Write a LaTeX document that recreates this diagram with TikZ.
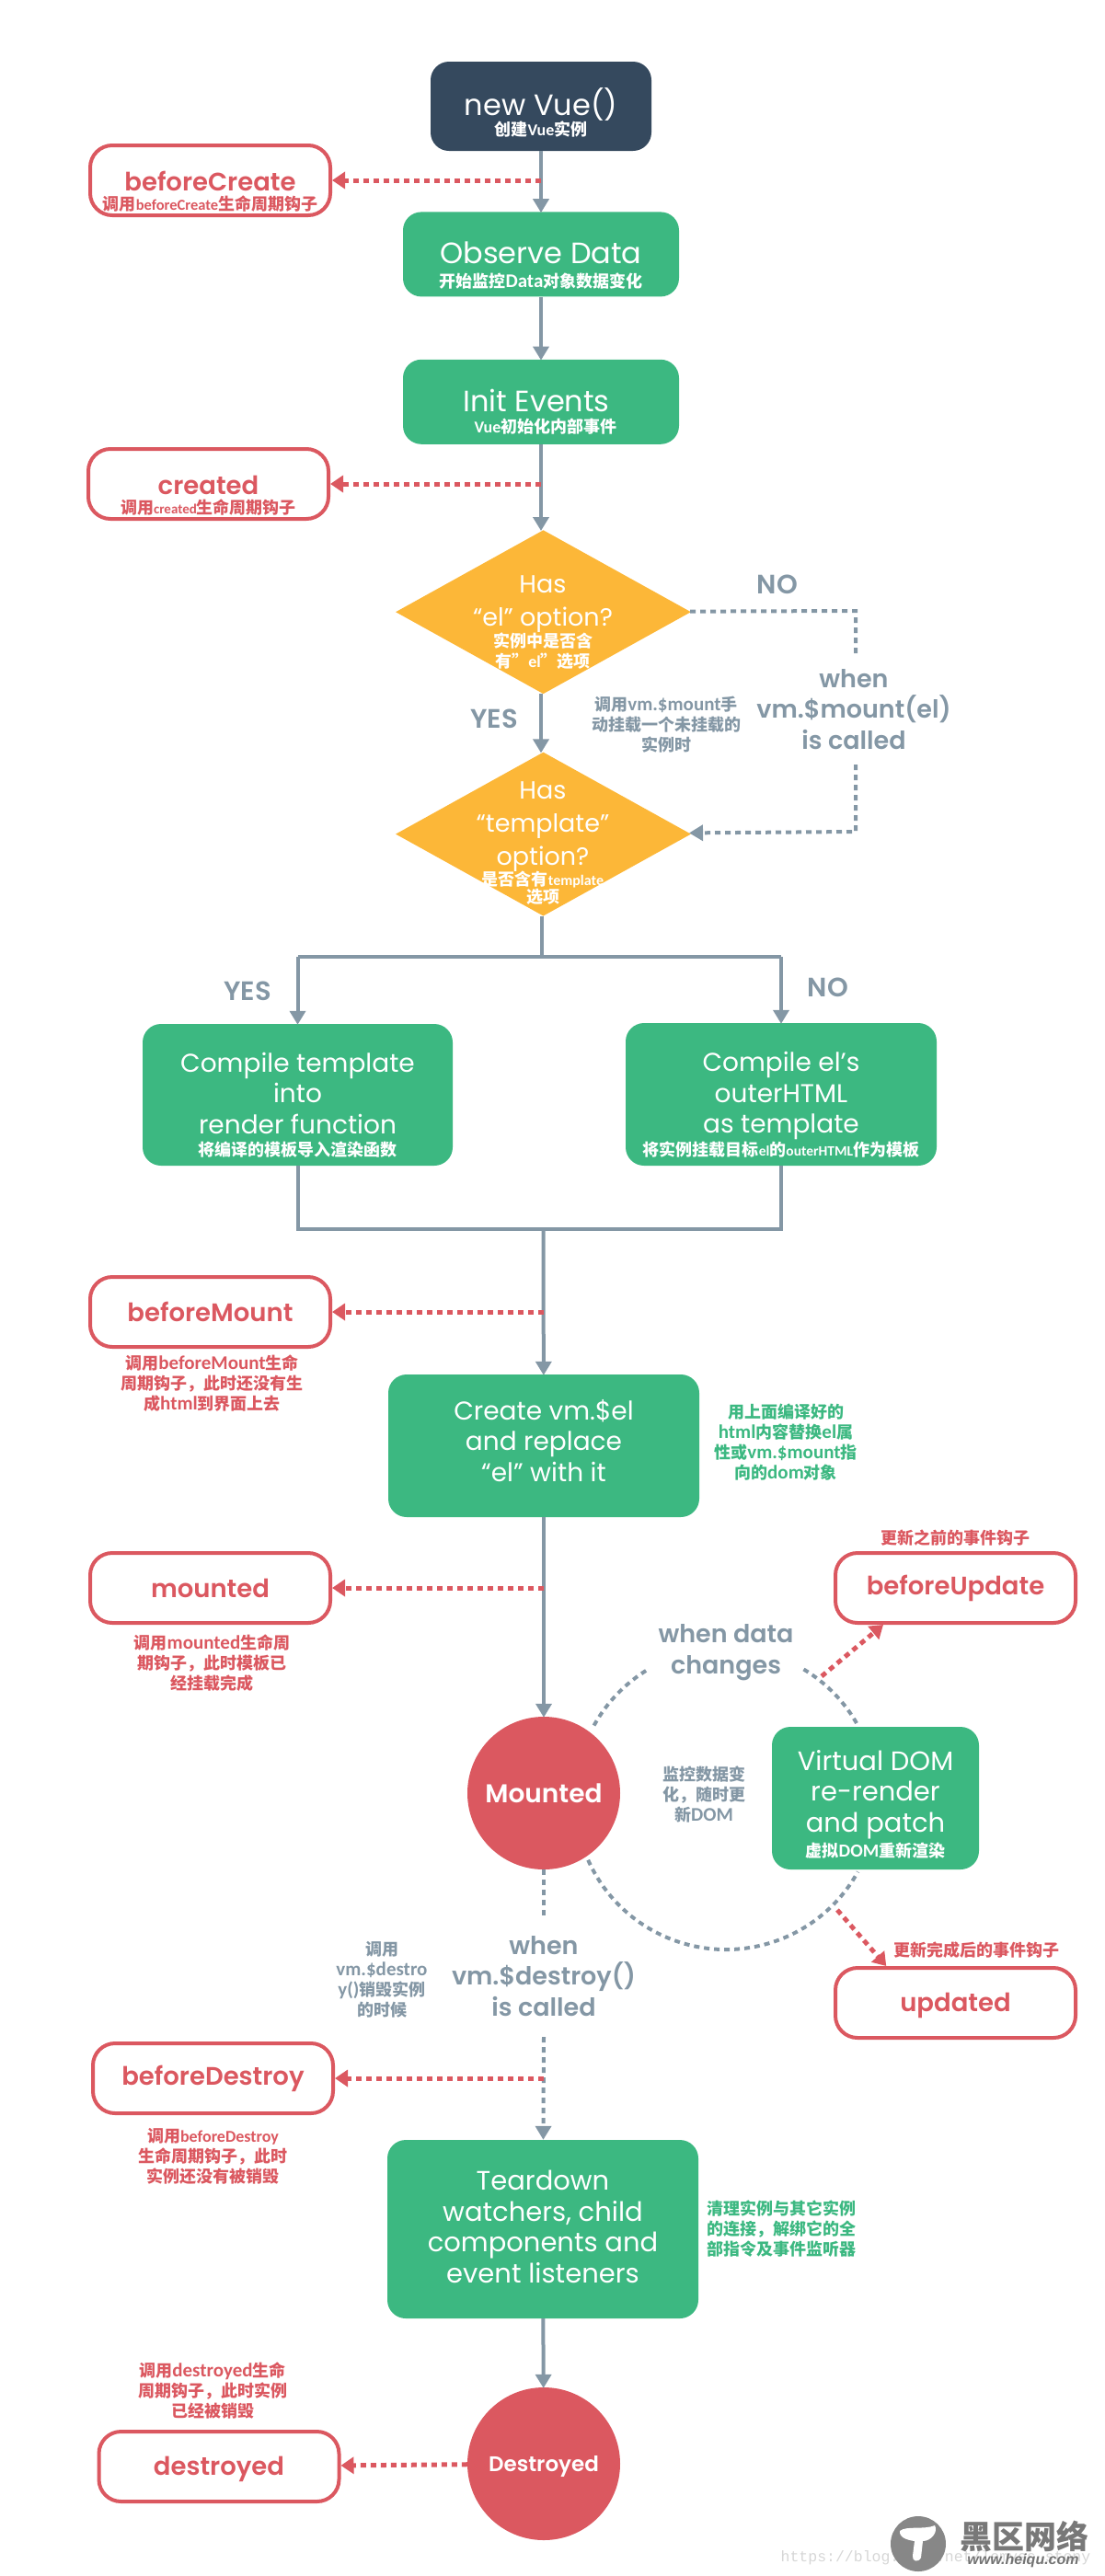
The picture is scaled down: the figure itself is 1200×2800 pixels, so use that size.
\documentclass[tikz,border=0pt]{standalone}
\usepackage{fontspec}
\setmainfont{Poppins}[BoldFont={Poppins SemiBold}]
\newfontfamily\cjk{Noto Sans CJK SC}
\newfontfamily\lat{Carlito}
\newfontfamily\wmono{Liberation Mono}
\newfontfamily\wsans{Liberation Sans}
\usetikzlibrary{arrows.meta}
\usetikzlibrary{positioning}
\usetikzlibrary{shapes.geometric}
\definecolor{vnavy}{HTML}{35495E}
\definecolor{vgreen}{HTML}{3CB881}
\definecolor{vorange}{HTML}{FCB738}
\definecolor{vred}{HTML}{DB5860}
\definecolor{vgrey}{HTML}{8497A5}
\newcommand{\toptxt}{\fontsize{32}{33.5}\selectfont}
\newcommand{\midtxt}{\fontsize{29}{33.5}\selectfont}
\newcommand{\bigtxt}{\fontsize{28}{33.5}\selectfont}
\newcommand{\subtxt}{\cjk\bfseries\fontsize{18}{22}\selectfont}
\newcommand{\sub}[1]{{\subtxt #1}}
\newcommand{\en}[2][21]{{\lat\bfseries\fontsize{#1}{22}\selectfont #2}}
\newcommand{\pad}[1]{\rule{0pt}{#1pt}}
\tikzset{
  stepbox/.style={fill=vgreen, text=white, rounded corners=20pt, align=center, inner sep=0pt, font=\bigtxt},
  hookbox/.style={draw=vred, line width=4pt, fill=white, text=vred, rounded corners=24pt, minimum width=261pt, minimum height=76pt, align=center, inner sep=0pt, font=\fontsize{27.5}{33.5}\selectfont\bfseries},
  decide/.style={diamond, fill=vorange, minimum width=321pt, minimum height=178pt, inner sep=0pt},
  decidetxt/.style={text=white, align=center, inner sep=0pt, font=\fontsize{27}{36}\selectfont},
  ball/.style={circle, fill=vred, text=white, inner sep=0pt, align=center},
  note/.style={align=center, inner sep=0pt, font=\subtxt},
  flowtxt/.style={text=vgrey, align=center, inner sep=0pt, font=\fontsize{27}{33.5}\selectfont\bfseries},
  answer/.style={flowtxt, font=\midtxt\bfseries},
  wire/.style={draw=vgrey, line width=4pt},
  flow/.style={wire, -{Triangle[length=15pt,width=17pt]}, shorten >=-1pt},
  wait/.style={draw=vgrey, line width=4pt, dash pattern=on 6pt off 5pt},
  waitflow/.style={wait, -{Triangle[length=15pt,width=17pt]}},
  hookflow/.style={draw=vred, line width=5pt, dash pattern=on 6pt off 5pt, -{Triangle[length=14pt,width=18pt]}}
}
\begin{document}
\begin{tikzpicture}[x=1pt, y=1pt]
  \useasboundingbox (0,0) rectangle (1200,-2800);

  \node [stepbox, font=\toptxt, fill=vnavy, minimum width=240pt, minimum height=97pt] (vue) at (588,-115.5)
    {\pad{44}new Vue()\\[-11pt]\sub{创建\en[18]{Vue}实例}};
  \node [stepbox, font=\toptxt, minimum width=300pt, minimum height=92pt, below=66pt of vue] (obs)
    {\pad{48}Observe Data\\[-7pt]\sub{开始监控\en{Data}对象数据变化}};
  \node [stepbox, font=\toptxt, minimum width=300pt, minimum height=92pt, below=68pt of obs] (init)
    {\pad{46}\hspace*{-10pt}Init Events\\[-10pt]\hspace*{10pt}\sub{\en[18]{Vue}初始化内部事件}};
  \node [decide, below=93pt of init, xshift=2.5pt] (hasel) {};
  \node [decidetxt] (hasel text) at (590,-677)
    {Has\\“el” option?\\[-13pt]\sub{实例中是否含}\\[-14pt]\sub{有”\en[18]{el}”选项}};
  \node [decide, below=63pt of hasel] (hastpl) {};
  \node [decidetxt] (hastpl text) at (590,-917)
    {Has\\“template”\\option?\\[-14pt]\sub{是否含有\en[16]{template}}\\[-17pt]\sub{选项}};

  \node [stepbox, minimum width=337pt, minimum height=154pt] (ctpl) at (323.5,-1190)
    {\pad{44}Compile template\\into\\render function\\[-9pt]\sub{将编译的模板导入渲染函数}};
  \node [stepbox, minimum width=338pt, minimum height=155pt] (cel) at (849,-1189.5)
    {\pad{44}Compile el’s\\outerHTML\\as template\\[-9pt]\sub{将实例挂载目标\en[15.5]{el}的\en[15.5]{outerHTML}作为模板}};
  \node [stepbox, minimum width=338pt, minimum height=155pt] (create) at (591,-1571.5)
    {Create vm.\$el\\and replace\\“el” with it\rule[-12pt]{0pt}{0pt}};
  \node [ball, minimum size=166pt, font=\bigtxt\bfseries] (mounted) at (591,-1949) {Mounted};
  \node [stepbox, font=\midtxt, minimum width=225pt, minimum height=155pt] (vdom) at (951.5,-1954.5)
    {\pad{36}Virtual DOM\\re-render\\and patch\\[-6pt]\sub{虚拟\en[20]{DOM}重新渲染}};
  \node [stepbox, font=\midtxt, minimum width=338pt, minimum height=194pt] (teardown) at (590,-2423)
    {Teardown\\watchers, child\\components and\\event listeners\rule[-6pt]{0pt}{0pt}};
  \node [ball, minimum size=166pt, font=\fontsize{23}{28}\selectfont\bfseries] (destroyed) at (591,-2678) {\pad{22}Destroyed};

  \node [hookbox] (bcreate) at (228.5,-196) {\pad{46}beforeCreate\\[-13pt]\sub{调用\en[16.5]{beforeCreate}生命周期钩子}};
  \node [hookbox] (created) at (226.5,-526) {\pad{46}created\\[-13pt]\sub{调用\en[15]{created}生命周期钩子}};
  \node [hookbox] (bmount) at (228.5,-1426) {beforeMount};
  \node [hookbox] (hmounted) at (228.5,-1726) {mounted};
  \node [hookbox] (bupdate) at (1038.5,-1726) {beforeUpdate};
  \node [hookbox] (updated) at (1038.5,-2177) {\pad{26}updated};
  \node [hookbox] (bdestroy) at (231.5,-2259) {beforeDestroy};
  \node [hookbox] (hdestroyed) at (238,-2681) {\pad{26}destroyed};

  \node [note, text=vred, below=7pt of bmount, xshift=2pt] (bmount note) {调用\en{beforeMount}生命\\周期钩子，此时还没有生\\成\en{html}到界面上去};
  \node [note, text=vred, below=11pt of hmounted, xshift=2pt] (mounted note) {调用\en{mounted}生命周\\期钩子，此时模板已\\经挂载完成};
  \node [note, text=vred, below=14pt of bdestroy] (bdestroy note) {调用\en[18]{beforeDestroy}\\生命周期钩子，此时\\实例还没有被销毁};
  \node [note, text=vred, above=12pt of hdestroyed, xshift=-7pt] (destroyed note) {调用\en{destroyed}生命\\周期钩子，此时实例\\已经被销毁};
  \node [note, text=vred, above=6pt of bupdate] (bupdate note) {更新之前的事件钩子};
  \node [note, text=vred] (updated note) at (1061,-2120) {更新完成后的事件钩子};
  \node [note, text=vgreen] (create note) at (854,-1568) {用上面编译好的\\\en{html}内容替换\en{el}属\\性或\en{vm.\$mount}指\\向的\en{dom}对象};
  \node [note, text=vgreen] (teardown note) at (849,-2423) {清理实例与其它实例\\的连接，解绑它的全\\部指令及事件监听器};
  \node [note, text=vgrey] (mount note) at (724,-788) {调用\en{vm.\$mount}手\\动挂载一个未挂载的\\实例时};
  \node [note, text=vgrey] (data note) at (765,-1950) {监控数据变\\化，随时更\\新\en{DOM}};
  \node [note, text=vgrey] (destroy note) at (415,-2152) {调用\\\en{vm.\$destro}\\\en{y()}销毁实例\\的时候};

  \node [answer] (yes1) at (537,-781) {YES};
  \node [answer] (no1) at (845,-635) {NO};
  \node [answer] (yes2) at (269,-1077) {YES};
  \node [answer] (no2) at (900,-1073) {NO};
  \node [flowtxt] (when mount) at (928,-771) {when\\vm.\$mount(el)\\is called};
  \node [flowtxt] (when data) at (789,-1796) {when data\\changes};
  \node [flowtxt] (when destroy) at (591,-2148) {when\\vm.\$destroy()\\is called};

  \coordinate (c1) at (588,-196);
  \coordinate (c2) at (588,-526);
  \coordinate (split) at (588.5,-1040);
  \coordinate (splitl) at (323.5,-1040);
  \coordinate (splitr) at (849,-1040);
  \coordinate (joinl) at (323.5,-1336);
  \coordinate (joinr) at (849,-1336);
  \coordinate (join) at (590.5,-1336);
  \coordinate (c3) at (590.5,-1426);
  \coordinate (c4) at (591,-1726);
  \coordinate (c5) at (591,-2259);
  \coordinate (m1) at (930,-664);
  \coordinate (m2) at (930,-712);
  \coordinate (m3) at (930,-831);
  \coordinate (m4) at (930,-904);
  \coordinate (d1) at (591,-2085);
  \coordinate (d2) at (591,-2214);
  \coordinate (u1) at (893,-1822);
  \coordinate (u2) at (910,-2076);
  \coordinate (o) at (789,-1955);

  \draw [flow] (vue) -- (obs);
  \draw [flow] (obs) -- (init);
  \draw [flow] (init) -- (init |- hasel.north);
  \draw [flow] (init |- hasel.south) -- (init |- hastpl.north);
  \draw [wire] (split |- hastpl.south) -- (split);
  \draw [wire] (splitl) -- (splitr);
  \draw [flow] (splitl) -- (ctpl);
  \draw [flow] (splitr) -- (cel);
  \draw [wire] (ctpl) -- (joinl) -- (joinr) -- (cel);
  \draw [flow] (join) -- (create);
  \draw [flow] (create) -- (mounted);
  \draw [flow] (teardown) -- (destroyed);

  \draw [wait] (hasel) -- (m1) -- (m2);
  \draw [waitflow] (m3) -- (m4) -- (hastpl);
  \draw [wait] (mounted) -- (d1);
  \draw [waitflow] (d2) -- (teardown);
  \draw [wait] ([shift={(151:164)}]o) arc [start angle=151, end angle=121, radius=164];
  \draw [wait] ([shift={(59:164)}]o) arc [start angle=59, end angle=29, radius=164];
  \draw [wait] ([shift={(204:164)}]o) arc [start angle=204, end angle=331, radius=164];

  \draw [hookflow] (c1) -- (bcreate);
  \draw [hookflow] (c2) -- (created);
  \draw [hookflow] (c3) -- (bmount);
  \draw [hookflow] (c4) -- (hmounted);
  \draw [hookflow] (c5) -- (bdestroy);
  \draw [hookflow] (destroyed) -- (hdestroyed);
  \draw [hookflow] (u1) -- (bupdate.207);
  \draw [hookflow] (u2) -- (updated.152);

  \node [inner sep=0pt, text=black!16, font=\wmono\fontsize{16.5}{18}\selectfont] (wm url) at (1017,-2780) {https://blog.csdn.net/lemyes\_stony};
  \node [circle, fill=black!47, minimum size=60pt, inner sep=0pt] (wm logo) at (998,-2765) {};
  \fill [white] (978,-2751) .. controls (985,-2745) and (1005,-2750) .. (1016,-2745) .. controls (1020,-2752) and (1012,-2762) .. (1003,-2762) -- (1001,-2780) .. controls (998,-2786) and (991,-2784) .. (992,-2778) -- (994,-2762) .. controls (986,-2761) and (977,-2758) .. (978,-2751) -- cycle;
  \node [inner sep=0pt, text=black!53, font=\cjk\bfseries\fontsize{35}{38}\selectfont] (wm name) at (1113,-2757) {黑区网络};
  \node [inner sep=0pt, text=black!55, font=\wsans\itshape\bfseries\fontsize{16}{18}\selectfont] (wm site) at (1112,-2783) {www.heiqu.com};
\end{tikzpicture}
\end{document}
